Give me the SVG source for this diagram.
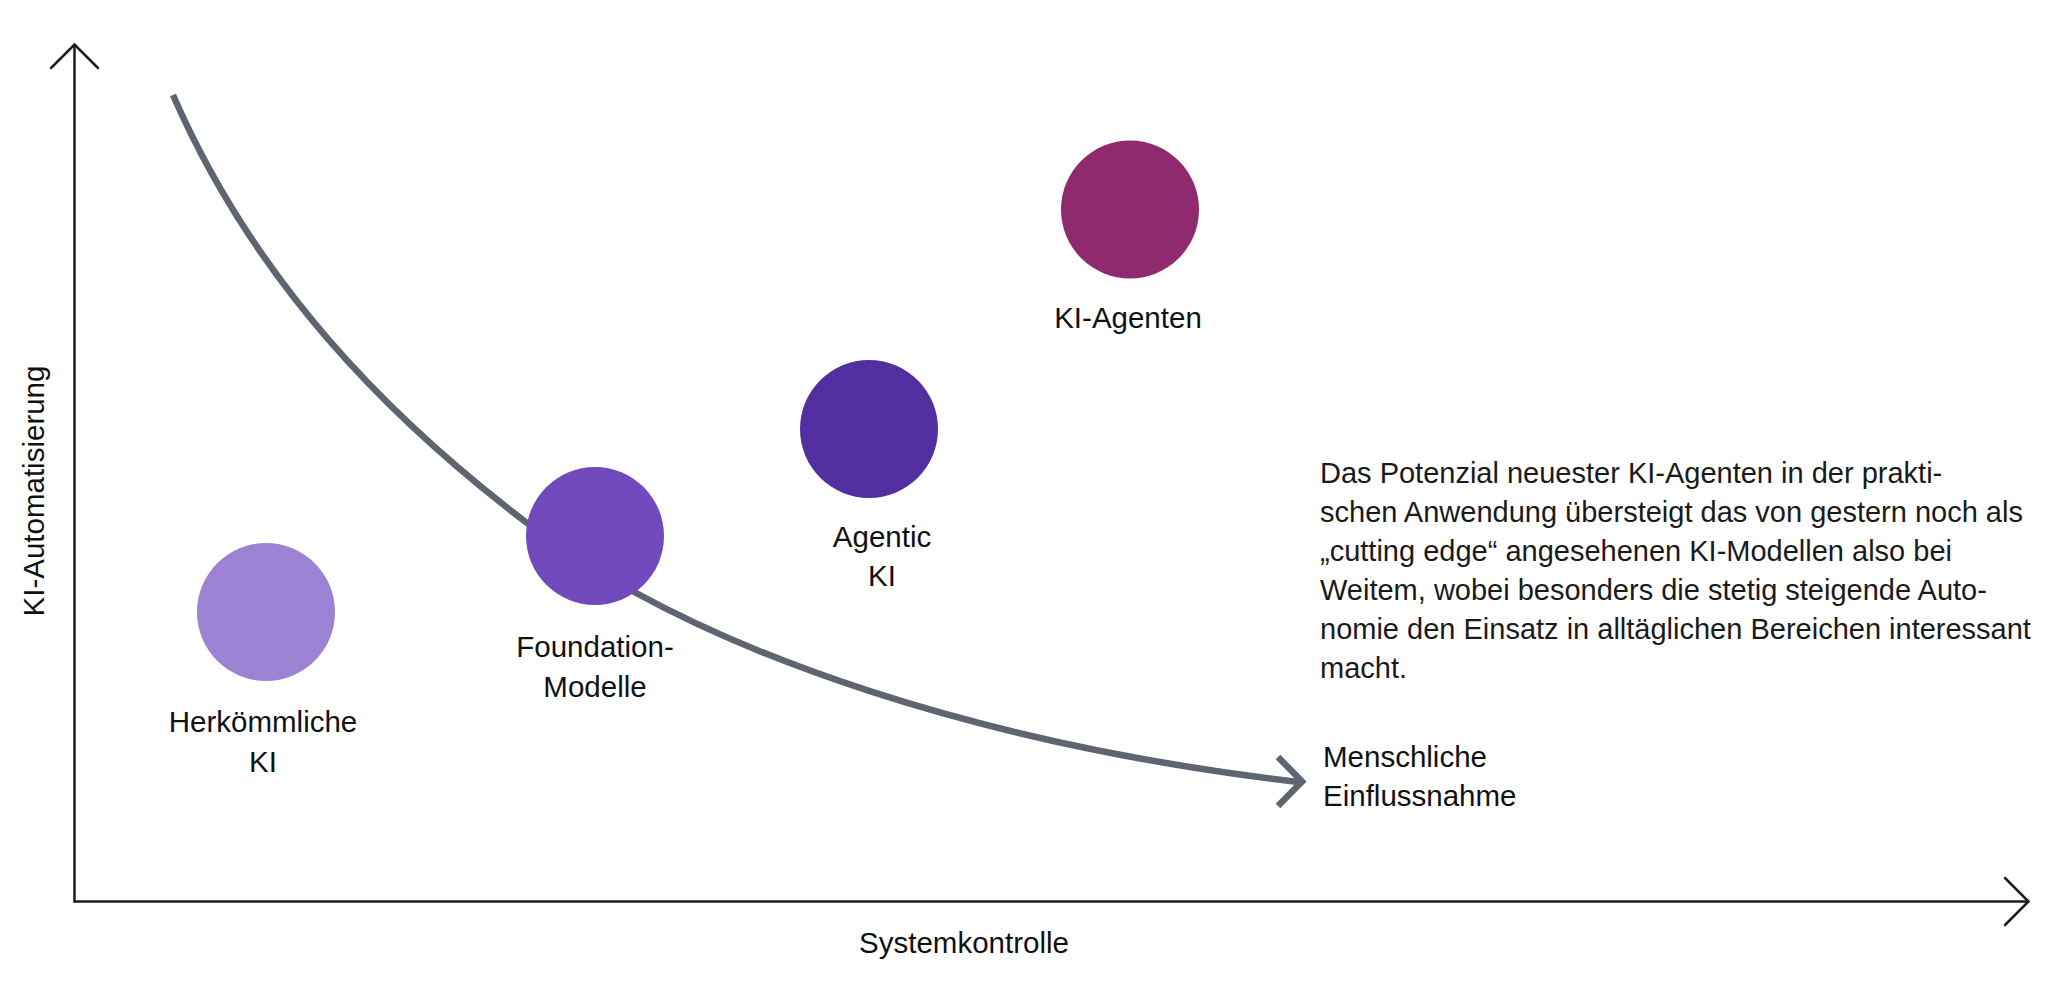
<svg xmlns="http://www.w3.org/2000/svg" width="2048" height="987" viewBox="0 0 2048 987">
<style>
.axis{fill:none;stroke:#1b1b24;stroke-width:2.5;stroke-linecap:round;stroke-linejoin:miter}
.curve{fill:none;stroke:#5e6570;stroke-width:6.5}
.lbl{font-family:"Liberation Sans",Arial,sans-serif;font-size:29.5px;fill:#111111;text-anchor:middle}
.para{font-family:"Liberation Sans",Arial,sans-serif;font-size:29px;fill:#1a1a1a}
</style>
<rect width="2048" height="987" fill="#ffffff"/>
<g id="axes">
<path class="axis" d="M74.5,901.5 V45"/>
<path class="axis" d="M51,68 L74.5,44.5 L98,68"/>
<path class="axis" d="M74.5,901.5 H2028"/>
<path class="axis" d="M2005,878 L2028.5,901.5 L2005,925"/>
<text class="lbl" transform="translate(44,491) rotate(-90)">KI-Automatisierung</text>
<text class="lbl" x="964" y="953">Systemkontrolle</text>
</g>
<g id="connectors">
<path class="curve" d="M173,95 C254,281 387,416.6 527,523 C707,659.8 1000,747 1298,782"/>
<path class="curve" d="M1278,757 L1302,781.5 L1278,806" stroke-linejoin="miter"/>
</g>
<g id="node-herkoemmliche">
<circle cx="266" cy="612" r="69" fill="#9b82d2"/>
<text class="lbl" x="263" y="732">Herkömmliche</text>
<text class="lbl" x="263" y="772">KI</text>
</g>
<g id="node-foundation">
<circle cx="595" cy="536" r="69" fill="#714abe"/>
<text class="lbl" x="595" y="657">Foundation-</text>
<text class="lbl" x="595" y="697">Modelle</text>
</g>
<g id="node-agentic">
<circle cx="869" cy="429" r="69" fill="#522ea0"/>
<text class="lbl" x="882" y="547">Agentic</text>
<text class="lbl" x="882" y="586">KI</text>
</g>
<g id="node-ki-agenten">
<circle cx="1130" cy="209.5" r="69" fill="#902a6f"/>
<text class="lbl" x="1128" y="328">KI-Agenten</text>
</g>
<g id="node-menschliche">
<text class="lbl" x="1323" y="767" style="text-anchor:start">Menschliche</text>
<text class="lbl" x="1323" y="806" style="text-anchor:start">Einflussnahme</text>
</g>
<g id="description">
<text class="para" x="1320" y="483">Das Potenzial neuester KI-Agenten in der prakti-</text>
<text class="para" x="1320" y="522">schen Anwendung übersteigt das von gestern noch als</text>
<text class="para" x="1320" y="561">„cutting edge“ angesehenen KI-Modellen also bei</text>
<text class="para" x="1320" y="600">Weitem, wobei besonders die stetig steigende Auto-</text>
<text class="para" x="1320" y="639">nomie den Einsatz in alltäglichen Bereichen interessant</text>
<text class="para" x="1320" y="678">macht.</text>
</g>
</svg>
